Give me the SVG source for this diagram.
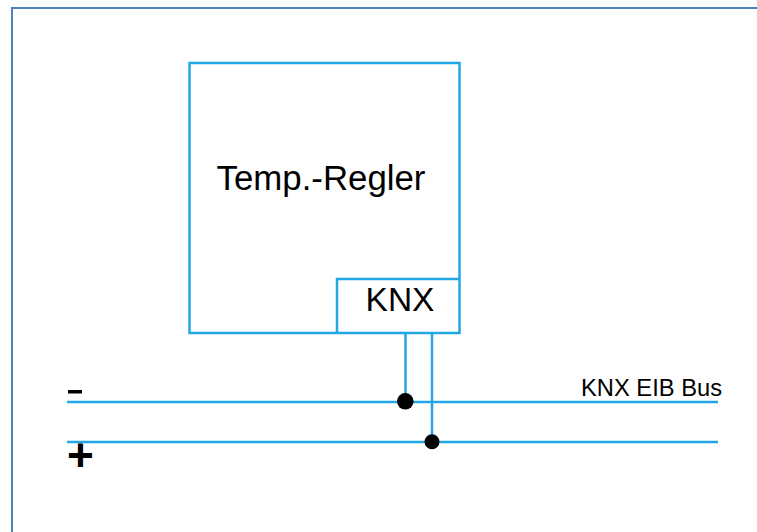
<svg xmlns="http://www.w3.org/2000/svg" width="757" height="532" viewBox="0 0 757 532">
<style>
.w{fill:none;stroke:#22a7e6;stroke-width:2.500}
.t{font-family:"Liberation Sans",Arial,sans-serif;fill:#000}
</style>
<rect width="757" height="532" fill="#fff"/>
<path id="frame" d="M12 532V8H757" fill="none" stroke="#4f81bd" stroke-width="2"/>
<g id="regler">
<rect class="w" x="189.500" y="63" width="270" height="270"/>
<text class="t" x="321" y="190" font-size="34.800" text-anchor="middle">Temp.-Regler</text>
</g>
<g id="knx">
<path class="w" d="M337 333V279H459.500"/>
<text class="t" x="400" y="311" font-size="33.500" text-anchor="middle">KNX</text>
</g>
<g id="connectors">
<path class="w" d="M67 402H718M67 442H718M405.500 333V401M432 333V441"/>
<circle cx="405.300" cy="401.300" r="8.300"/>
<circle cx="432" cy="441.800" r="7.500"/>
</g>
<g id="bus-labels">
<text class="t" x="581" y="396" font-size="23.500" textLength="141" lengthAdjust="spacingAndGlyphs">KNX EIB Bus</text>
<rect x="68" y="390" width="14" height="3.500" fill="#000"/>
<text class="t" x="80.500" y="471" font-size="46" font-weight="700" text-anchor="middle">+</text>
</g>
</svg>
